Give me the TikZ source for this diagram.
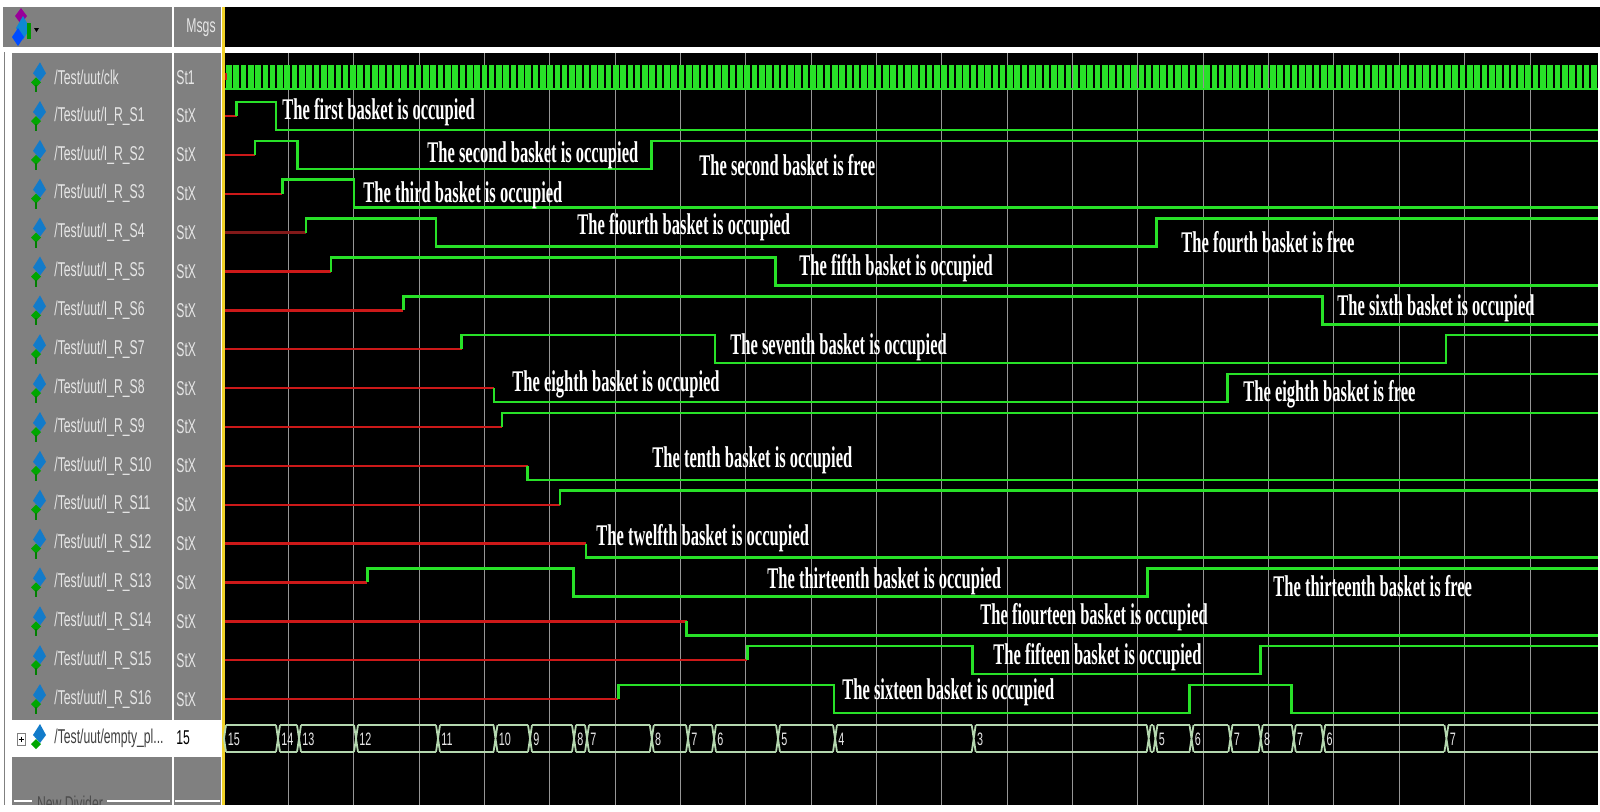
\documentclass[tikz,border=0pt]{standalone}
\usepackage{fontspec}
\usepackage{graphicx}
\setmainfont{Liberation Serif}
\newfontfamily\sansf{Liberation Sans}
\definecolor{wgreen}{RGB}{40,225,40}
\definecolor{wred}{RGB}{205,25,25}
\definecolor{wdred}{RGB}{130,25,25}
\definecolor{pgray}{RGB}{128,128,128}
\definecolor{ggray}{RGB}{150,150,150}
\definecolor{busc}{RGB}{180,215,175}
\definecolor{yline}{RGB}{240,210,40}
\definecolor{ntext}{RGB}{230,230,230}
\newcommand\lab[1]{\scalebox{0.55}[1]{\fontsize{15}{15}\selectfont\bfseries #1}}
\newcommand\nm[1]{\scalebox{0.61}[1]{\sansf\fontsize{10}{10}\selectfont #1}}
\newcommand\bv[1]{\scalebox{0.6}[1]{\sansf\fontsize{9}{9}\selectfont #1}}
\begin{document}
\begin{tikzpicture}[x=0.5pt,y=-0.5pt,
  sig/.style={draw=wgreen,line width=1.25pt,line join=miter},
  xsig/.style={draw=wred,line width=1.2pt},
  gridl/.style={draw=ggray,line width=0.45pt},
  lbl/.style={anchor=base west,inner sep=0,text=white},
  nmlbl/.style={anchor=west,inner sep=0,text=ntext},
  vlbl/.style={anchor=west,inner sep=0,text=ntext},
  bus/.style={draw=busc,line width=0.9pt},
  bval/.style={anchor=west,inner sep=0,text=ntext}]
\useasboundingbox (0,0) rectangle (1600,811);
\fill[white] (0,0) rectangle (1600,811);
% header
\fill[pgray] (3,7) rectangle (172,47);
\fill[pgray] (174,7) rectangle (221,47);
\fill[black] (225,7) rectangle (1600,47);
% body panels
\draw[pgray,line width=0.5pt] (4,52) -- (4,805);
\fill[pgray] (12,53) rectangle (172,805);
\fill[pgray] (174,53) rectangle (221,805);
\fill[black] (225,53) rectangle (1598,805);
\fill[yline] (222,7) rectangle (225,805);
% bus row highlight
\fill[white] (12,720) rectangle (172,757);
\fill[white] (174,720) rectangle (221,757);
% grid
\foreach \k in {0,...,19}{
  \draw[gridl] ({288.3+65.35*\k},53) -- ({288.3+65.35*\k},805);
}
% header icon
\fill[violet!80!magenta] (21,8) -- (27,16) -- (21,24) -- (15,16) -- cycle;
\fill[cyan!70!blue] (23,16) -- (30,28) -- (23,40) -- (16,28) -- cycle;
\fill[blue!70!cyan] (18,28) -- (24,37) -- (18,46) -- (12,37) -- cycle;
\fill[green!60!black] (27,23) rectangle (31,39);
\fill[black] (34,28) -- (39,28) -- (36.5,32) -- cycle;
\node[anchor=east,inner sep=0,text=ntext] (msgs) at (216,28) {\nm{Msgs}};
% clock
\foreach \k in {0,...,187}{
  \fill[wgreen] ({226+7.3*\k},65) rectangle ({226+7.3*\k+5.6},90);
}
\draw[wgreen,line width=1pt] (225,89) -- (1598,89);
\fill[wred] (225,73) rectangle (227,80);
% signal icons and names
\foreach \y/\n/\v [count=\i] in {
  77.3/{/Test/uut/clk}/St1,
  116.0/{/Test/uut/I\_R\_S1}/StX,
  154.9/{/Test/uut/I\_R\_S2}/StX,
  193.7/{/Test/uut/I\_R\_S3}/StX,
  232.6/{/Test/uut/I\_R\_S4}/StX,
  271.5/{/Test/uut/I\_R\_S5}/StX,
  310.4/{/Test/uut/I\_R\_S6}/StX,
  349.2/{/Test/uut/I\_R\_S7}/StX,
  388.1/{/Test/uut/I\_R\_S8}/StX,
  427.0/{/Test/uut/I\_R\_S9}/StX,
  465.8/{/Test/uut/I\_R\_S10}/StX,
  504.7/{/Test/uut/I\_R\_S11}/StX,
  543.6/{/Test/uut/I\_R\_S12}/StX,
  582.4/{/Test/uut/I\_R\_S13}/StX,
  621.3/{/Test/uut/I\_R\_S14}/StX,
  660.2/{/Test/uut/I\_R\_S15}/StX,
  699.1/{/Test/uut/I\_R\_S16}/StX}{
  \fill[cyan!60!blue] (40,\y-15) -- (46,\y-4) -- (40,\y+4) -- (33,\y-4) -- cycle;
  \fill[green!65!black] (36,\y) -- (41,\y+5) -- (36,\y+10) -- (31,\y+5) -- cycle;
  \draw[green!50!black,line width=0.7pt] (36,\y+8) -- (36,\y+15);
  \node[nmlbl] (name\i) at (54,\y) {\nm{\n}};
  \node[vlbl] (val\i) at (176,\y) {\nm{\v}};
}
% bus row name
\draw[gray,line width=0.5pt,fill=white] (17,733) rectangle (25,745);
\draw[black,line width=0.5pt] (18.5,739) -- (23.5,739) (21,736.5) -- (21,741.5);
\fill[cyan!60!blue] (40,724) -- (46,735) -- (40,743) -- (33,735) -- cycle;
\fill[green!65!black] (36,739) -- (41,744) -- (36,749) -- (31,744) -- cycle;
\node[anchor=west,inner sep=0,text=black!75] (namebus) at (54,738) {\nm{/Test/uut/empty\_pl...}};
\node[anchor=west,inner sep=0,text=black] (valbus) at (176,738) {\nm{15}};
% divider
\draw[white,line width=0.8pt] (14,801) -- (32,801) (107,801) -- (170,801) (175,801) -- (220,801);
\node[anchor=center,inner sep=0,text=black!70] (divider) at (70,803) {\nm{New Divider}};
\fill[white] (0,805) rectangle (1600,811);
% red X parts
\draw[xsig] (225,116) -- (236.7,116);
\draw[xsig] (225,154.9) -- (255,154.9);
\draw[xsig] (225,193.7) -- (282.3,193.7);
\draw[wdred,line width=1.2pt] (225,232.6) -- (306,232.6);
\draw[xsig] (225,271.5) -- (331,271.5);
\draw[xsig,line width=1.7pt] (225,310.4) -- (403.3,310.4);
\draw[xsig] (225,349.2) -- (461.7,349.2);
\draw[xsig] (225,388.1) -- (494,388.1);
\draw[xsig] (225,427.0) -- (502,427.0);
\draw[xsig] (225,465.8) -- (527.7,465.8);
\draw[xsig] (225,504.7) -- (560,504.7);
\draw[xsig] (225,543.6) -- (586,543.6);
\draw[xsig] (225,582.4) -- (367.3,582.4);
\draw[xsig] (225,621.3) -- (686.7,621.3);
\draw[xsig] (225,660.2) -- (747.3,660.2);
\draw[xsig] (225,699.1) -- (618.3,699.1);
% green signals
\draw[sig] (236.7,116) -- (236.7,102) -- (276,102) -- (276,130) -- (1598,130);
\draw[sig] (255,154.9) -- (255,140.9) -- (297.7,140.9) -- (297.7,168.9) -- (651.7,168.9) -- (651.7,140.9) -- (1598,140.9);
\draw[sig] (282.3,193.7) -- (282.3,179.7) -- (354,179.7) -- (354,207.7) -- (1598,207.7);
\draw[sig] (306,232.6) -- (306,218.6) -- (436,218.6) -- (436,246.6) -- (1156.7,246.6) -- (1156.7,218.6) -- (1598,218.6);
\draw[sig] (331,271.5) -- (331,257.5) -- (775.7,257.5) -- (775.7,285.5) -- (1598,285.5);
\draw[sig] (403.3,310.4) -- (403.3,296.4) -- (1322.3,296.4) -- (1322.3,324.4) -- (1598,324.4);
\draw[sig] (461.7,349.2) -- (461.7,335.2) -- (715,335.2) -- (715,363.2) -- (1446,363.2) -- (1446,335.2) -- (1598,335.2);
\draw[sig] (494,388.1) -- (494,402.1) -- (1227.3,402.1) -- (1227.3,374.1) -- (1598,374.1);
\draw[sig] (502,427.0) -- (502,413.0) -- (1598,413.0);
\draw[sig] (527.7,465.8) -- (527.7,479.8) -- (1598,479.8);
\draw[sig] (560,504.7) -- (560,490.7) -- (1598,490.7);
\draw[sig] (586,543.6) -- (586,557.6) -- (1598,557.6);
\draw[sig] (367.3,582.4) -- (367.3,568.4) -- (573.3,568.4) -- (573.3,596.4) -- (1147.7,596.4) -- (1147.7,568.4) -- (1598,568.4);
\draw[sig] (686.7,621.3) -- (686.7,635.3) -- (1598,635.3);
\draw[sig] (747.3,660.2) -- (747.3,646.2) -- (972.3,646.2) -- (972.3,674.2) -- (1260.7,674.2) -- (1260.7,646.2) -- (1598,646.2);
\draw[sig] (618.3,699.1) -- (618.3,685.1) -- (834,685.1) -- (834,713.1) -- (1189.3,713.1) -- (1189.3,685.1) -- (1291.7,685.1) -- (1291.7,713.1) -- (1598,713.1);
% bus
\foreach \a/\b in {226/276,280/297,301/354,358/436,440/493.5,497.5/528,532/572,576/585,589/649.8,653.8/686,690/712,716/776,780/833,837/971.7,975.7/1146.7,1150.7/1153.4,1157.4/1189.5,1193.5/1228.4,1232.4/1258.7,1262.7/1291.8,1295.8/1321.2,1325.2/1444.4,1448.4/1598}{
  \draw[bus] (\a,725) -- (\b,725) (\a,752) -- (\b,752);
}
\foreach \t in {278,299,356,438,495.5,530,574,587,651.8,688,714,778,835,973.7,1148.7,1155.4,1191.5,1230.4,1260.7,1293.8,1323.2,1446.4}{
  \draw[bus] (\t-2,725) -- (\t+2,752) (\t-2,752) -- (\t+2,725);
}
\draw[bus] (226,725) -- (224,738.5) -- (226,752);
\foreach \t/\v [count=\j] in {224.5/15,278/14,299/13,356/12,438/11,495.5/10,530/9,574/8,587/7,651.8/8,688/7,714/6,778/5,835/4,973.7/3,1155.4/5,1191.5/6,1230.4/7,1260.7/8,1293.8/7,1323.2/6,1446.4/7}{
  \node[bval] (bv\j) at (\t+3,739) {\bv{\v}};
}
% annotations
\node[lbl] (t1) at (282,119.3) {\lab{The first basket is occupied}};
\node[lbl] (t2) at (427,162.7) {\lab{The second basket is occupied}};
\node[lbl] (t3) at (699,175) {\lab{The second basket is free}};
\node[lbl] (t4) at (363,202.7) {\lab{The third basket is occupied}};
\node[lbl] (t5) at (577,234) {\lab{The fiourth basket is occupied}};
\node[lbl] (t6) at (1181,252.7) {\lab{The fourth basket is free}};
\node[lbl] (t7) at (799,275) {\lab{The fifth basket is occupied}};
\node[lbl] (t8) at (1337,315.7) {\lab{The sixth basket is occupied}};
\node[lbl] (t9) at (730,354) {\lab{The seventh basket is occupied}};
\node[lbl] (t10) at (512,391.7) {\lab{The eighth basket is occupied}};
\node[lbl] (t11) at (1243,401.7) {\lab{The eighth basket is free}};
\node[lbl] (t12) at (652,467.3) {\lab{The tenth basket is occupied}};
\node[lbl] (t13) at (596,545.7) {\lab{The twelfth basket is occupied}};
\node[lbl] (t14) at (767,588.3) {\lab{The thirteenth basket is occupied}};
\node[lbl] (t15) at (1273,596) {\lab{The thirteenth basket is free}};
\node[lbl] (t16) at (980,624) {\lab{The fiourteen basket is occupied}};
\node[lbl] (t17) at (993,664) {\lab{The fifteen basket is occupied}};
\node[lbl] (t18) at (842,699) {\lab{The sixteen basket is occupied}};
\end{tikzpicture}
\end{document}
